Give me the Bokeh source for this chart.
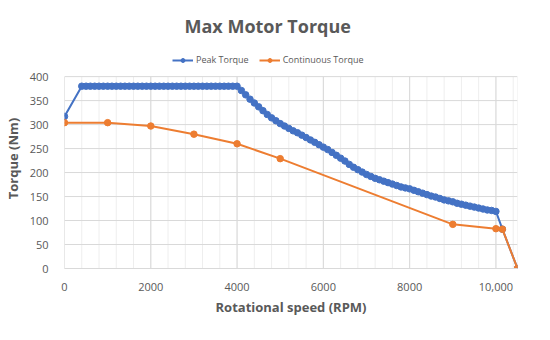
from bokeh.plotting import figure
from bokeh.models import Legend, LegendItem, FixedTicker, Range1d, LinearAxis
from bokeh.embed import file_html
from bokeh.resources import INLINE

# ---- data ----
peak_rpm = [0, 400, 500, 600, 700, 800, 900, 1000, 1100, 1200, 1300, 1400, 1500,
            1600, 1700, 1800, 1900, 2000, 2100, 2200, 2300, 2400, 2500, 2600, 2700,
            2800, 2900, 3000, 3100, 3200, 3300, 3400, 3500, 3600, 3700, 3800, 3900,
            4000, 4100, 4200, 4300, 4400, 4500, 4600, 4700, 4800, 4900, 5000, 5100,
            5200, 5300, 5400, 5500, 5600, 5700, 5800, 5900, 6000, 6100, 6200, 6300,
            6400, 6500, 6600, 6700, 6800, 6900, 7000, 7100, 7200, 7300, 7400, 7500,
            7600, 7700, 7800, 7900, 8000, 8100, 8200, 8300, 8400, 8500, 8600, 8700,
            8800, 8900, 9000, 9100, 9200, 9300, 9400, 9500, 9600, 9700, 9800, 9900,
            10000, 10150, 10500]
peak_torque = [317, 380, 380, 380, 380, 380, 380, 380, 380, 380, 380, 380, 380,
               380, 380, 380, 380, 380, 380, 380, 380, 380, 380, 380, 380,
               380, 380, 380, 380, 380, 380, 380, 380, 380, 380, 380, 380,
               380, 371, 362, 353, 345, 337, 329, 321, 314, 308, 302, 297,
               292, 287, 283, 278, 273, 268, 263, 258, 253, 248, 242, 236,
               230, 224, 217, 211, 206, 201, 196, 192, 188, 185, 182, 179,
               176, 173, 170, 168, 166, 163, 160, 157, 154, 151, 149, 146,
               143, 141, 139, 136, 134, 132, 130, 128, 126, 124, 122, 121,
               119, 82, 0]

cont_rpm = [0, 1000, 2000, 3000, 4000, 5000, 9000, 10000, 10150, 10500]
cont_torque = [304, 304, 297, 280, 260, 229, 92, 83, 82, 0]

x_ticks = [0, 2000, 4000, 6000, 8000, 10000]
x_tick_labels = ["0", "2000", "4000", "6000", "8000", "10,000"]
y_ticks = [0, 50, 100, 150, 200, 250, 300, 350, 400]
x_max = 10500
y_max = 400

BLUE = "#4472C4"
ORANGE = "#ED7D31"
TXT = "#595959"
FONT = "Open Sans"
GRID = "#d9d9d9"
MINOR = "#eeeeee"

# the frame reaches above 400 to leave room for the legend inside it
p = figure(width=534, height=324, output_backend="svg", toolbar_location=None,
           x_range=Range1d(0, x_max), y_range=Range1d(0, 458.6),
           min_border_left=62, min_border_right=17, min_border_top=0,
           min_border_bottom=56, title="Max Motor Torque")
p.outline_line_color = None
p.xgrid.grid_line_color = None
p.ygrid.grid_line_color = None

# title
p.title.align = "left"
p.title.offset = 120
p.title.text_font = FONT
p.title.text_font_size = "18px"
p.title.text_font_style = "bold"
p.title.text_color = TXT
p.title.standoff = 22

# grid lines drawn only over the 0..400 data area
minor = [v for v in range(0, x_max + 1, 400)] + [x_max]
p.segment(x0=minor, y0=[0] * len(minor), x1=minor, y1=[y_max] * len(minor),
          line_color=MINOR, line_width=1)
p.segment(x0=x_ticks, y0=[0] * len(x_ticks), x1=x_ticks, y1=[y_max] * len(x_ticks),
          line_color=GRID, line_width=1)
p.segment(x0=[0] * len(y_ticks), y0=y_ticks, x1=[x_max] * len(y_ticks), y1=y_ticks,
          line_color=GRID, line_width=1)

# glyphs
l1 = p.line(peak_rpm, peak_torque, line_color=BLUE, line_width=2)
c1 = p.scatter(peak_rpm, peak_torque, size=6.5, fill_color=BLUE, line_color=BLUE)
l2 = p.line(cont_rpm, cont_torque, line_color=ORANGE, line_width=2)
c2 = p.scatter(cont_rpm, cont_torque, size=6.5, fill_color=ORANGE, line_color=ORANGE)

legend = Legend(items=[LegendItem(label="Peak Torque", renderers=[l1, c1]),
                       LegendItem(label="Continuous Torque", renderers=[l2, c2])],
                orientation="horizontal", location=(108, 202))
legend.label_text_font = FONT
legend.label_text_font_size = "9px"
legend.label_text_color = TXT
legend.glyph_width = 21
legend.glyph_height = 10
legend.label_height = 10
legend.label_standoff = 3
legend.spacing = 10
legend.padding = 2
legend.margin = 0
legend.border_line_color = None
legend.background_fill_alpha = 0
p.add_layout(legend)

# axes
p.xaxis.ticker = FixedTicker(ticks=x_ticks)
p.xaxis.major_label_overrides = {t: s for t, s in zip(x_ticks, x_tick_labels)}
p.yaxis.ticker = FixedTicker(ticks=y_ticks)

p.xaxis.axis_label = "Rotational speed (RPM)"
p.yaxis.axis_label = "Torque (Nm)"
for ax in (p.xaxis, p.yaxis):
    ax.axis_label_text_font = FONT
    ax.axis_label_text_font_size = "13px"
    ax.axis_label_text_font_style = "bold"
    ax.axis_label_text_color = TXT
    ax.major_label_text_font = FONT
    ax.major_label_text_font_size = "11px"
    ax.major_label_text_color = TXT
    ax.major_tick_line_color = None
    ax.minor_tick_line_color = None
p.xaxis.axis_line_color = GRID
p.yaxis.axis_line_color = None
p.xaxis.major_label_standoff = 8
p.xaxis.axis_label_standoff = 4
p.yaxis.major_label_standoff = 10
p.yaxis.axis_label_standoff = 5

# empty outer axis, only to widen the left margin
pad = LinearAxis(ticker=FixedTicker(ticks=[]), axis_line_color=None,
                 major_tick_line_color=None, minor_tick_line_color=None,
                 major_tick_out=6, major_tick_in=0, minor_tick_out=0,
                 major_label_standoff=0)
p.add_layout(pad, "left")

open("out.html", "w").write(file_html(p, INLINE))
